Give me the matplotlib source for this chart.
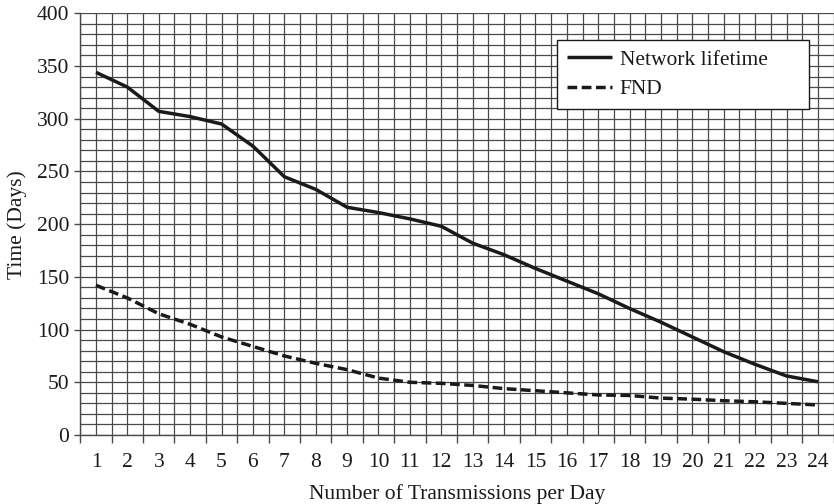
import matplotlib
matplotlib.use("Agg")
import matplotlib.pyplot as plt
import numpy as np
from matplotlib.ticker import MultipleLocator, FixedLocator, NullFormatter

# Data
transmissions = list(range(1, 25))
network_lifetime = [344, 330, 307, 302, 295, 274, 245, 233, 216, 211, 205, 198,
                    182, 171, 158, 146, 134, 120, 107, 93, 79, 67, 56, 50.5]
fnd = [142, 130, 115, 105, 93, 84, 75, 68, 62, 54, 50, 49,
       47, 44, 42, 40, 38, 37.5, 35, 34, 32.5, 31.5, 30, 28.5]

plt.rcParams['font.family'] = ['Liberation Serif', 'DejaVu Serif']

FS = 15.5
fig = plt.figure(figsize=(8.34, 5.04), dpi=100)
ax = fig.add_axes([80.3 / 834, (504 - 435) / 504, 753.3 / 834, (435 - 13.3) / 504])

grid_color = '#4a4a4a'
ink = '#1a1a1a'

# Category axis: labels at centres, tick marks on boundaries
ax.set_xlim(0.5, 24.5)
ax.set_ylim(0, 400)
ax.set_xticks(transmissions)
ax.set_xticklabels([str(t) for t in transmissions])
ax.tick_params(axis='x', which='major', length=0, pad=13, labelsize=FS, colors=ink)
ax.xaxis.set_minor_locator(FixedLocator(np.arange(0.5, 25.0, 1.0)))
ax.xaxis.set_minor_formatter(NullFormatter())
ax.tick_params(axis='x', which='minor', length=6, width=1, color=grid_color)

ax.yaxis.set_major_locator(MultipleLocator(50))
ax.yaxis.set_minor_locator(MultipleLocator(10))
ax.tick_params(axis='y', which='major', length=4, width=1, color=grid_color,
               labelsize=FS, colors=ink, pad=4)
ax.tick_params(axis='y', which='minor', length=0)

# Dense grid: every half category and every 10 days
for xv in np.arange(0.5, 24.6, 0.5):
    ax.axvline(xv, color=grid_color, lw=0.9, zorder=0)
for yv in range(0, 401, 10):
    ax.axhline(yv, color=grid_color, lw=0.9, zorder=0)

for side in ['top', 'right']:
    ax.spines[side].set_visible(False)
for side in ['left', 'bottom']:
    ax.spines[side].set_color(grid_color)
    ax.spines[side].set_linewidth(1)

ax.plot(transmissions, network_lifetime, color=ink, lw=2.5, solid_capstyle='butt',
        label='Network lifetime', zorder=3)
ax.plot(transmissions, fnd, color=ink, lw=2.5, dashes=(2.8, 1.3),
        label='FND', zorder=3)

ax.set_xlabel('Number of Transmissions per Day', fontsize=FS, color=ink, labelpad=9)
ax.set_ylabel('Time (Days)', fontsize=FS, color=ink, labelpad=7)

leg = ax.legend(loc='upper left', bbox_to_anchor=(0.633, 0.773, 0.335, 0.164),
                mode='expand', fontsize=FS,
                frameon=True, fancybox=False, framealpha=1, edgecolor=ink,
                handlelength=2.1, handletextpad=0.35, borderpad=0.45,
                labelspacing=0.45, borderaxespad=0)
leg.get_frame().set_linewidth(1)
for t in leg.get_texts():
    t.set_color(ink)

fig.savefig('out.png', dpi=100, facecolor='white')
